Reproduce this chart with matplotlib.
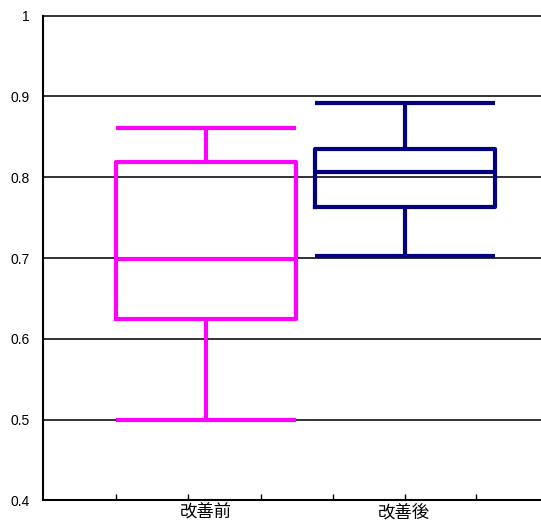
import matplotlib
matplotlib.use("Agg")
import matplotlib.pyplot as plt

plt.rcParams['font.family'] = ['Noto Sans CJK JP', 'DejaVu Sans']

# データ (箱ひげ図の統計値)
categories = ['改善前', '改善後']
minimum = [0.500, 0.703]
q1 = [0.624, 0.763]
median = [0.699, 0.806]
q3 = [0.819, 0.835]
maximum = [0.861, 0.892]
colors = ['#FF00FF', '#000080']

y_ticks = [0.4, 0.5, 0.6, 0.7, 0.8, 0.9, 1.0]
y_labels = ['0.4', '0.5', '0.6', '0.7', '0.8', '0.9', '1']

fig = plt.figure(figsize=(5.41, 5.23), dpi=100)
ax = fig.add_axes([43.3 / 541, 22.7 / 523, 497.7 / 541, 484.6 / 523])

stats = []
for i in range(len(categories)):
    stats.append({'med': median[i], 'q1': q1[i], 'q3': q3[i],
                  'whislo': minimum[i], 'whishi': maximum[i], 'label': categories[i]})

positions = [1, 2]
res = ax.bxp(stats, positions=positions, widths=0.905, capwidths=0.905,
             showfliers=False, manage_ticks=False)
for i, c in enumerate(colors):
    for key in ['boxes', 'medians']:
        res[key][i].set(color=c, linewidth=3)
    for key in ['whiskers', 'caps']:
        for ln in res[key][2 * i:2 * i + 2]:
            ln.set(color=c, linewidth=3, solid_capstyle='butt')

ax.set_xlim(0.1824, 2.683)
ax.set_ylim(0.4, 1.0)
ax.set_yticks(y_ticks)
ax.set_yticklabels(y_labels, fontsize=10, family='Liberation Sans')
ax.tick_params(axis='y', length=0, pad=10)

# 目盛り線 (下側, 内向き)
ax.set_xticks([0.548, 0.910, 1.276, 1.638, 1.998, 2.357])
ax.set_xticklabels([])
ax.tick_params(axis='x', direction='in', length=4, width=1, color='black')
for x, lab in zip([1.0, 1.995], categories):
    ax.text(x, -0.006, lab, transform=ax.get_xaxis_transform(), ha='center', va='top', fontsize=12.5)

for y in y_ticks[1:]:
    ax.axhline(y, color='#222222', linewidth=1.3, zorder=0, clip_on=False)

ax.spines['right'].set_visible(False)
ax.spines['top'].set_visible(False)
ax.spines['left'].set_linewidth(1.5)
ax.spines['bottom'].set_linewidth(1.5)

fig.savefig('out.png', dpi=100)
